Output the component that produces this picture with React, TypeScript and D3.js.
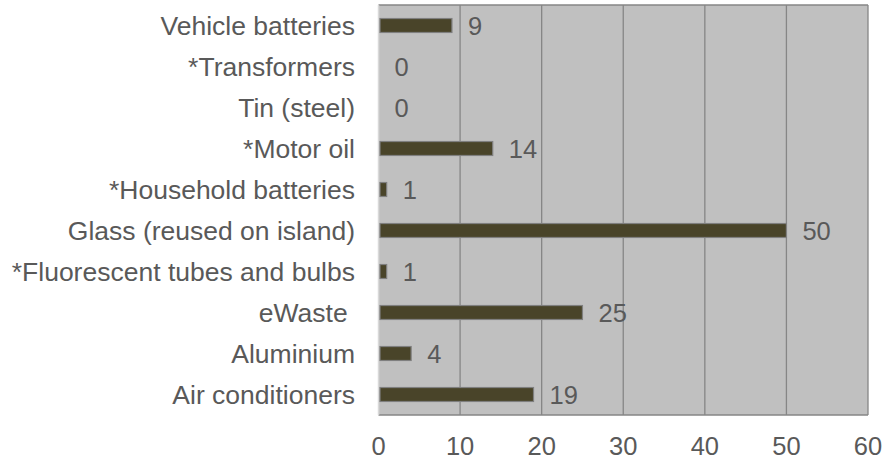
import React from "react";
import * as d3 from "d3";

const categories = [
  "Vehicle batteries",
  "*Transformers",
  "Tin (steel)",
  "*Motor oil",
  "*Household batteries",
  "Glass (reused on island)",
  "*Fluorescent tubes and bulbs",
  "eWaste ",
  "Aluminium",
  "Air conditioners",
];
const values = [9, 0, 0, 14, 1, 50, 1, 25, 4, 19];
const xTicks = [0, 10, 20, 30, 40, 50, 60];

const W = 886;
const H = 460;
const left = 378.5;
const right = 868;
const top = 5;
const bottom = 415;
const FONT = "'Liberation Sans', Arial, sans-serif";
const TXT = "#595959";

export default function App() {
  const x = d3.scaleLinear().domain([0, 60]).range([left, right]);
  const y = d3
    .scaleBand<string>()
    .domain(categories)
    .range([top, bottom])
    .paddingInner(0.66)
    .paddingOuter(0.33);
  const band = d3.scaleBand<string>().domain(categories).range([top, bottom]);

  return (
    <svg
      width={W}
      height={H}
      style={{ position: "absolute", left: 0, top: 0, background: "#fff" }}
    >
      <rect x={left} y={top} width={right - left} height={bottom - top} fill="#c0c0c0" />
      {xTicks.slice(1).map((t) => (
        <line
          key={t}
          x1={x(t)}
          x2={x(t)}
          y1={top}
          y2={bottom}
          stroke="#868686"
          strokeWidth={1.3}
        />
      ))}
      <line x1={left} x2={right} y1={top} y2={top} stroke="#868686" strokeWidth={1.3} />
      <line x1={left} x2={right} y1={bottom} y2={bottom} stroke="#868686" strokeWidth={1.3} />
      <line x1={left} x2={left} y1={top} y2={bottom} stroke="#d9d9d9" strokeWidth={1.5} />
      {categories.map((c, i) => {
        const v = values[i];
        const by = y(c)!;
        const bh = y.bandwidth();
        const cy = band(c)! + band.bandwidth() / 2;
        return (
          <g key={c}>
            {v > 0 && (
              <rect
                x={x(0) + 1.5}
                y={by}
                width={x(v) - x(0) - 1.5}
                height={bh}
                fill="#494429"
                stroke="#7f7f7f"
                strokeWidth={1.2}
              />
            )}
            <text
              x={x(v) + 16}
              y={cy}
              dy="0.36em"
              fontFamily={FONT}
              fontSize={25.5}
              fill={TXT}
            >
              {v}
            </text>
            <text
              x={355}
              y={cy}
              dy="0.36em"
              textAnchor="end"
              fontFamily={FONT}
              fontSize={26.5}
              fill={TXT}
              style={{ whiteSpace: "pre" }}
            >
              {c}
            </text>
          </g>
        );
      })}
      {xTicks.map((t) => (
        <text
          key={t}
          x={x(t)}
          y={455}
          textAnchor="middle"
          fontFamily={FONT}
          fontSize={25.5}
          fill={TXT}
        >
          {t}
        </text>
      ))}
    </svg>
  );
}
